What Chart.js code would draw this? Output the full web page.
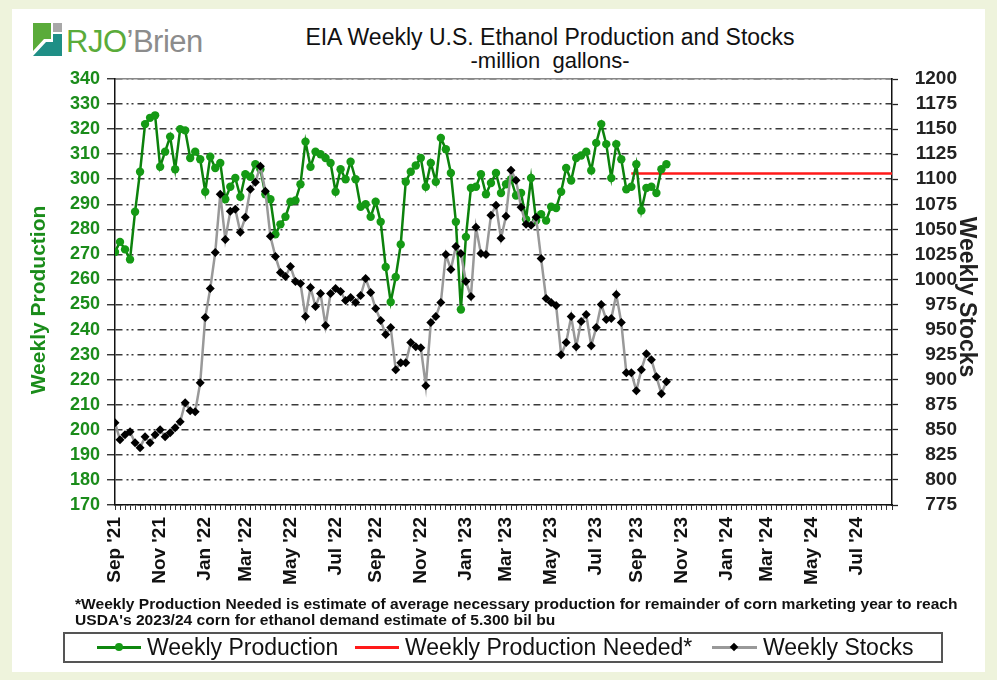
<!DOCTYPE html>
<html>
<head>
<meta charset="utf-8">
<title>EIA Weekly U.S. Ethanol Production and Stocks</title>
<script src="https://cdn.jsdelivr.net/npm/chart.js@4.4.0/dist/chart.umd.min.js"></script>
<style>
  html, body { margin: 0; padding: 0; }
  body {
    width: 997px; height: 680px; position: relative; overflow: hidden;
    background: #eef3dc;
    font-family: Arial, "Liberation Sans", sans-serif;
  }
  #panel { position: absolute; left: 12px; top: 9px; width: 973px; height: 663px; background: #fff; }
  #chartCanvas { position: absolute; left: 0; top: 0; }
  #logo { position: absolute; left: 0; top: 0; }
  .logo-text { position: absolute; left: 66px; top: 24px; font-size: 31px; letter-spacing: -0.5px; white-space: nowrap; }
  .rjo { color: #5aab3a; }
  .brien { color: #8c8c8c; }
  .title { position: absolute; left: 250px; width: 600px; text-align: center; color: #111; white-space: nowrap; line-height: 26px; }
  #title1 { top: 24px; font-size: 23px; }
  #title2 { top: 48px; font-size: 22px; }
  .axis-title { position: absolute; width: 300px; height: 26px; line-height: 26px; text-align: center; font-weight: bold; white-space: nowrap; }
  #ytitle { left: -112px; top: 287px; font-size: 21px; color: #1a8c1a; transform: rotate(-90deg); }
  #y1title { left: 818px; top: 284px; font-size: 23px; color: #222; transform: rotate(90deg); }
  .note { position: absolute; left: 75px; font-size: 14px; font-weight: bold; color: #111; white-space: nowrap; transform-origin: 0 0; }
  #note1 { top: 596px; }
  #note2 { top: 612px; }
  #legendBox { position: absolute; left: 63px; top: 632px; width: 876px; height: 27px; border: 2px solid #555; background: #fff; }
  .lg-line { position: absolute; height: 3px; }
  .lg-dot { position: absolute; width: 8px; height: 8px; border-radius: 50%; background: #159a15; }
  .lg-dia { position: absolute; width: 6px; height: 6px; background: #000; transform: rotate(45deg); }
  .lg-text { position: absolute; top: 633px; font-size: 23px; color: #111; white-space: nowrap; line-height: 28px; }
</style>
</head>
<body>
<div id="panel"></div>
<svg id="logo" width="70" height="70">
  <polygon points="33,23 51,23 51,39 44,39 33,51" fill="#5aab3a"/>
  <rect x="53" y="23" width="9" height="9" fill="#a8a8a8"/>
  <polygon points="33,56 46,42 53,42 53,34 62,34 62,56" fill="#1f8f86"/>
</svg>
<div class="logo-text"><span class="rjo">RJO</span><span class="brien">’Brien</span></div>
<div class="title" id="title1">EIA Weekly U.S. Ethanol Production and Stocks</div>
<div class="title" id="title2">-million&nbsp; gallons-</div>

<canvas id="chartCanvas" width="997" height="680"></canvas>

<div class="axis-title" id="ytitle">Weekly Production</div>
<div class="axis-title" id="y1title">Weekly Stocks</div>

<div class="note" id="note1">*Weekly Production Needed is estimate of average necessary production for remainder of corn marketing year to reach</div>
<div class="note" id="note2">USDA's 2023/24 corn for ethanol demand estimate of 5.300 bil bu</div>

<div id="legendBox"></div>
<div class="lg-line" style="left:97px; top:646px; width:44px; background:#0f870f;"></div>
<div class="lg-dot" style="left:115px; top:643px;"></div>
<div class="lg-text" style="left:147px;">Weekly Production</div>
<div class="lg-line" style="left:355px; top:646px; width:44px; background:#ff1a1a;"></div>
<div class="lg-text" style="left:405px;">Weekly Production Needed*</div>
<div class="lg-line" style="left:712px; top:646px; width:45px; background:#999;"></div>
<div class="lg-dia" style="left:731px; top:644px;"></div>
<div class="lg-text" style="left:763px;">Weekly Stocks</div>

<script>
// week index 0 = first week of Sep 2021, axis runs through Aug 2024
const weekCount = 156;
const weeks = [];
for (let i = 0; i < weekCount; i++) {
    const d = new Date(2021, 8, 3 + 7 * i);
    weeks.push((d.getMonth() + 1) + '/' + d.getDate() + '/' + d.getFullYear());
}

// x axis month labels and the week they sit on
const tickWeeks = [0, 9, 18, 26, 35, 44, 52, 61, 70, 78, 87, 96, 104, 113, 122, 130, 139, 148];
const tickLabels = ["Sep '21", "Nov '21", "Jan '22", "Mar '22", "May '22", "Jul '22",
                    "Sep '22", "Nov '22", "Jan '23", "Mar '23", "May '23", "Jul '23",
                    "Sep '23", "Nov '23", "Jan '24", "Mar '24", "May '24", "Jul '24"];

// weekly production, million gallons (left axis)
const production = [
    271, 275, 272, 268, 287, 303, 322, 324.5, 325.5, 305,
    311, 317, 304, 320, 319.5, 308.5, 311, 308, 295, 309,
    304.5, 306.5, 292, 297, 300.5, 293, 302, 301, 306, 304,
    294, 292, 278, 282, 285, 291, 291.5, 298, 315, 305,
    311, 310, 308.5, 306.5, 295, 304, 300, 307, 300, 289,
    290, 285, 291, 283, 265, 251, 261, 274, 299, 303,
    305.5, 308.5, 297, 306.5, 299, 316.5, 312, 302.5, 283, 248,
    277, 296.5, 297, 302, 294, 298.5, 302.5, 294.5, 298, 300,
    293.5, 294.5, 284, 300.5, 283.5, 286, 283.5, 289, 288.5, 295,
    304.5, 299.5, 308.5, 309.5, 311, 303.5, 314.5, 322, 314, 300.5,
    314, 308, 296, 297, 306, 287.5, 296.5, 297, 294.5, 304,
    306
];

// weekly stocks, million gallons (right axis)
const stocks = [
    857, 840, 845, 848, 837, 832, 843, 837, 845, 850,
    843, 847, 852, 858, 877, 869, 868, 897, 962, 991,
    1027, 1085, 1040, 1068, 1070, 1047, 1062, 1090, 1097, 1113,
    1088, 1043, 1023, 1007, 1003, 1013, 998, 996, 963, 992,
    973, 986, 954, 986, 991, 988, 979, 982, 977, 984,
    1001, 987, 971, 959, 945, 952, 910, 917, 917, 937,
    933, 932, 894, 957, 963, 977, 1025, 1010, 1033, 1026,
    998, 983, 1052, 1026, 1025, 1064, 1074, 1041, 1063, 1109,
    1099, 1072, 1055, 1054, 1062, 1021, 981, 977, 974, 925,
    937, 963, 933, 958, 965, 934, 952, 975, 960, 961,
    985, 957, 907, 907, 889, 910, 926, 920, 903, 886,
    898
];

// production needed for rest of marketing year (flat line)
const neededWeeks = [103, 155];
const neededValues = [302.3, 302.3];

const FONT = 'Arial, "Liberation Sans", sans-serif';

function monthLabel(value) {
    const k = tickWeeks.indexOf(value);
    return k >= 0 ? tickLabels[k] : '';
}

const ctx = document.getElementById('chartCanvas');
new Chart(ctx, {
    type: 'line',
    data: {
        datasets: [
            {
                label: 'Weekly Stocks',
                data: stocks.map((v, i) => ({ x: i, y: v })),
                yAxisID: 'y1',
                borderColor: '#999999',
                borderWidth: 2.5,
                backgroundColor: '#000',
                pointBackgroundColor: '#000',
                pointBorderColor: '#000',
                pointStyle: 'rectRot',
                pointRadius: 4.5,
                pointBorderWidth: 0,
                tension: 0,
                order: 1
            },
            {
                label: 'Weekly Production',
                data: production.map((v, i) => ({ x: i, y: v })),
                yAxisID: 'y',
                borderColor: '#0c820c',
                borderWidth: 2.5,
                backgroundColor: '#159a15',
                pointBackgroundColor: '#159a15',
                pointBorderColor: '#159a15',
                pointStyle: 'circle',
                pointRadius: 4.2,
                pointBorderWidth: 0,
                tension: 0,
                order: 2
            },
            {
                label: 'Weekly Production Needed*',
                data: neededWeeks.map((w, i) => ({ x: w, y: neededValues[i] })),
                yAxisID: 'y',
                borderColor: '#ff1a1a',
                borderWidth: 2.5,
                pointRadius: 0,
                tension: 0,
                order: 3
            }
        ]
    },
    options: {
        responsive: false,
        animation: false,
        layout: {
            padding: { left: 21, right: 40, top: 79, bottom: 75 }
        },
        plugins: {
            legend: { display: false },
            title: { display: false },
            tooltip: {
                callbacks: {
                    title: items => weeks[items[0].parsed.x]
                }
            }
        },
        scales: {
            x: {
                type: 'linear',
                position: 'bottom',
                min: 0,
                max: weekCount - 1,
                afterBuildTicks: scale => {
                    scale.ticks = weeks.map((w, i) => ({ value: i }));
                },
                afterFit: scale => { scale.height = 100; },
                ticks: {
                    autoSkip: false,
                    maxRotation: 90,
                    minRotation: 90,
                    padding: 7,
                    color: '#111',
                    font: { family: FONT, size: 19, weight: 'bold' },
                    callback: value => monthLabel(value)
                },
                grid: {
                    drawOnChartArea: false,
                    drawTicks: true,
                    tickLength: 5,
                    tickColor: '#333',
                    tickWidth: 1
                },
                border: { color: '#111', width: 1.5 }
            },
            xTop: {
                type: 'linear',
                position: 'top',
                min: 0,
                max: weekCount - 1,
                afterFit: scale => { scale.height = 0; },
                ticks: { display: false },
                grid: { display: false },
                border: { color: '#888', width: 1.5 }
            },
            y: {
                position: 'left',
                min: 170,
                max: 340,
                afterFit: scale => { scale.width = 94; },
                ticks: {
                    stepSize: 10,
                    autoSkip: false,
                    padding: 7,
                    color: '#1a8c1a',
                    font: { family: FONT, size: 18, weight: 'bold' }
                },
                grid: {
                    color: '#3a3a3a',
                    lineWidth: 1.5,
                    tickLength: 8,
                    tickColor: '#222',
                    tickWidth: 1.3,
                    tickBorderDash: []
                },
                border: { color: '#111', width: 1.5, dash: [7, 4, 2, 3, 2, 4] }
            },
            y1: {
                position: 'right',
                min: 775,
                max: 1200,
                afterFit: scale => { scale.width = 65; },
                ticks: {
                    stepSize: 25,
                    autoSkip: false,
                    padding: 8,
                    crossAlign: 'far',
                    color: '#222',
                    font: { family: FONT, size: 19, weight: 'bold' },
                    callback: value => String(value)
                },
                grid: {
                    drawOnChartArea: false,
                    tickLength: 6,
                    tickColor: '#222',
                    tickWidth: 1.3
                },
                border: { color: '#111', width: 1.5 }
            }
        }
    }
});

// squeeze the footnote to the width it has in the original
const note1 = document.getElementById('note1');
const note2 = document.getElementById('note2');
const k = 883 / note1.offsetWidth;
note1.style.transform = 'scaleX(' + k + ')';
note2.style.transform = 'scaleX(' + k + ')';
</script>
</body>
</html>
